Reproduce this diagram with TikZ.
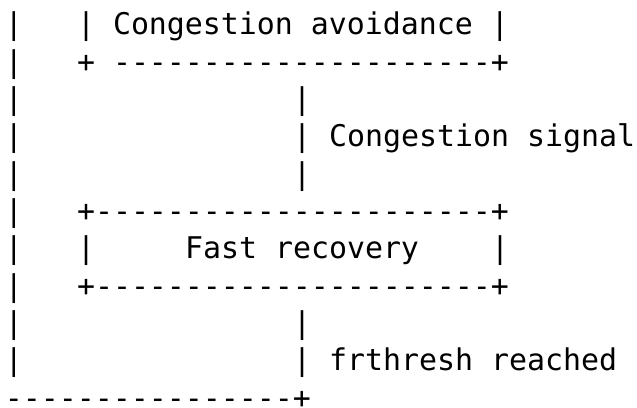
\documentclass[tikz,border=0pt]{standalone}
\usepackage{fontspec}
\setmonofont{DejaVu Sans Mono}
\tikzset{
  asc/.style={anchor=base west, inner sep=0pt, outer sep=0pt, text=black,
    font=\ttfamily\fontsize{29.9pt}{37.3pt}\selectfont}
}
% #1 name, #2 column, #3 line, #4 text
\newcommand\ascii[4]{\node[asc] (#1) at ({5pt+#2*18pt},{372pt-(#3-1)*37.3pt}) {#4};}
\begin{document}
\begin{tikzpicture}
\useasboundingbox (0pt,0pt) rectangle (637pt,407pt);
\ascii{a1}{0}{1}{|}
\ascii{ca}{4}{1}{| Congestion avoidance |}
\ascii{a2}{0}{2}{|}
\ascii{cab}{4}{2}{+ ---------------------+}
\ascii{a3}{0}{3}{|}
\ascii{s3}{16}{3}{|}
\ascii{a4}{0}{4}{|}
\ascii{cs}{16}{4}{| Congestion signal}
\ascii{a5}{0}{5}{|}
\ascii{s5}{16}{5}{|}
\ascii{a6}{0}{6}{|}
\ascii{frt}{4}{6}{+----------------------+}
\ascii{a7}{0}{7}{|}
\ascii{frl}{4}{7}{|}
\ascii{fr}{10}{7}{Fast recovery}
\ascii{frr}{27}{7}{|}
\ascii{a8}{0}{8}{|}
\ascii{frb}{4}{8}{+----------------------+}
\ascii{a9}{0}{9}{|}
\ascii{s9}{16}{9}{|}
\ascii{a10}{0}{10}{|}
\ascii{fth}{16}{10}{| frthresh reached}
\ascii{bot}{0}{11}{----------------+}
\end{tikzpicture}
\end{document}
